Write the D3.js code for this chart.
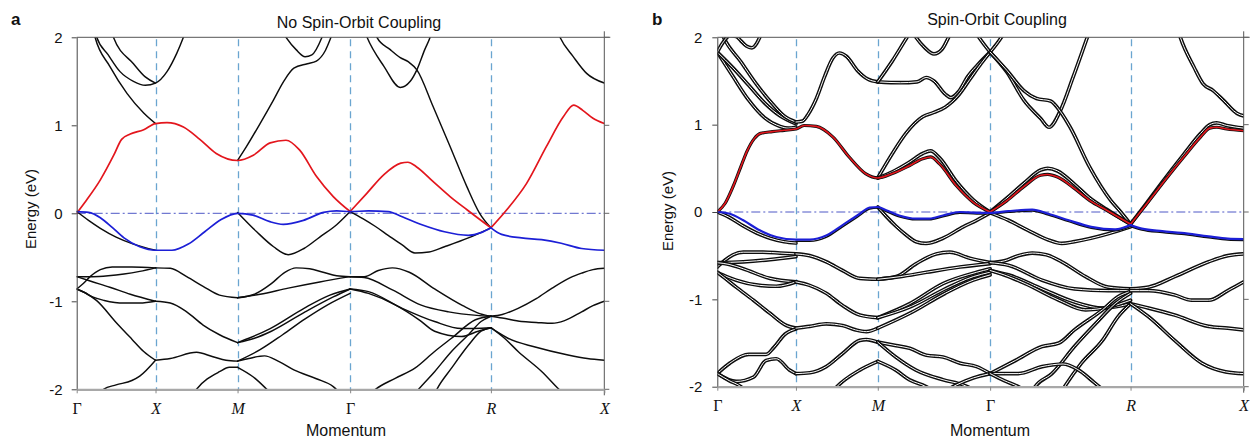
<!DOCTYPE html>
<html><head><meta charset="utf-8">
<script src="https://cdn.jsdelivr.net/npm/d3@7"></script>
<style>body{margin:0;background:#fff}</style>
</head><body>
<svg id="c" width="1253" height="440"></svg>
<script>
// ---------- shared axis data ----------
const symLabels = ["Γ","X","M","Γ","R","X"];
const kPath = [0, 0.49, 1.0, 1.70, 2.575, 3.28];   // path length of high-symmetry points
const yTicks = [-2, -1, 0, 1, 2];
// band points: [u, E] with u = segment coordinate (0=Γ,1=X,2=M,3=Γ,4=R,5=X); third value 1 = cusp

// ---------- panel a (no SOC) ----------
const aRed = [[0,0],[0.1,0.12],[0.3,0.38],[0.47,0.66],[0.57,0.84],[0.68,0.9],[0.85,0.95],[1,1.02],[1.14,1.03],[1.34,0.98],[1.54,0.84],[1.74,0.68],[2,0.6],[2.14,0.66],[2.29,0.8],[2.43,0.83],[2.55,0.72],[2.7,0.42],[2.85,0.19],[3,0.02,1],[3.12,0.23],[3.24,0.44],[3.36,0.57],[3.41,0.58],[3.47,0.53],[3.59,0.36],[3.71,0.19],[3.83,0.04],[4,-0.165,1],[4.14,0.04],[4.315,0.34],[4.49,0.76],[4.64,1.1],[4.73,1.23],[4.81,1.17],[4.9,1.08],[5,1.02]];
const aBlue = [[0,0.02],[0.15,0.01],[0.3,-0.05],[0.45,-0.16],[0.6,-0.28],[0.8,-0.38],[1,-0.42],[1.2,-0.42],[1.4,-0.35],[1.6,-0.21],[1.8,-0.07],[2,0.0],[2.137,-0.02],[2.287,-0.095],[2.406,-0.125],[2.585,-0.08],[2.764,0.01],[2.88,0.027],[3,0.02],[3.13,0.027],[3.27,0.02],[3.37,-0.04],[3.51,-0.13],[3.67,-0.21],[3.84,-0.25],[3.93,-0.22],[4,-0.165,1],[4.094,-0.24],[4.27,-0.28],[4.447,-0.3],[4.62,-0.34],[4.8,-0.4],[5,-0.42]];
const aConduction = [
  [[0.2,2.12],[0.233,2.0],[0.42,1.67],[0.64,1.36],[0.85,1.14],[1,1.02]],
  [[0.22,2.1],[0.254,2.0],[0.4,1.8],[0.55,1.61],[0.72,1.5],[0.87,1.455],[1,1.48],[1.14,1.61],[1.26,1.82],[1.34,2.0],[1.38,2.1]],
  [[0.43,2.1],[0.466,2.0],[0.72,1.7],[0.87,1.55],[1,1.48]],
  [[2,0.6],[2.08,0.76],[2.2,1.02],[2.32,1.29],[2.41,1.5],[2.5,1.65],[2.62,1.7],[2.7,1.73],[2.78,1.85],[2.83,2.0],[2.86,2.1]],
  [[2.38,2.1],[2.43,2.0],[2.52,1.86],[2.6,1.78],[2.66,1.8],[2.75,2.0],[2.78,2.1]],
  [[3.1,2.08],[3.12,2.0],[3.24,1.67],[3.356,1.43],[3.427,1.5],[3.474,1.63],[3.53,1.86],[3.568,2.0],[3.58,2.06]],
  [[3.17,2.08],[3.19,2.0],[3.285,1.86],[3.356,1.77],[3.415,1.72],[3.474,1.63],[3.59,1.21],[3.71,0.76],[3.83,0.3],[3.92,0.0],[4,-0.165]],
  [[4.57,2.12],[4.609,2.0],[4.726,1.78],[4.844,1.59],[5,1.48]]
];
const aValence = [
  [[0,0.02],[0.15,-0.08],[0.3,-0.17],[0.5,-0.27],[0.72,-0.35],[1,-0.42]],
  [[2,0.01],[2.17,-0.21],[2.32,-0.38],[2.45,-0.47],[2.59,-0.4],[2.73,-0.27],[2.88,-0.13],[3,0.02,1],[3.09,-0.06],[3.18,-0.15],[3.27,-0.25],[3.37,-0.36],[3.46,-0.45],[3.56,-0.44],[3.67,-0.38],[3.84,-0.28],[4,-0.165]],
  [[0,-0.86],[0.08,-0.8],[0.17,-0.72],[0.3,-0.64],[0.45,-0.61],[0.7,-0.61],[1,-0.62]],
  [[0,-0.72],[0.2,-0.72],[0.4,-0.71],[0.6,-0.69],[0.8,-0.66],[1,-0.62]],
  [[0,-0.72],[0.17,-0.77],[0.42,-0.84],[0.68,-0.92],[1,-1.0]],
  [[0,-0.86],[0.1,-0.9],[0.2,-0.95],[0.35,-0.99],[0.6,-1.02],[0.8,-1.02],[1,-1.0]],
  [[0,-0.86],[0.1,-0.9],[0.25,-0.99],[0.5,-1.24],[0.7,-1.43],[0.85,-1.57],[1,-1.67]],
  [[0.3,-2.03],[0.34,-2.0],[0.5,-1.95],[0.7,-1.9],[0.8,-1.85],[1,-1.67]],
  [[1,-0.62],[1.18,-0.625],[1.38,-0.72],[1.58,-0.83],[1.78,-0.93],[2,-0.96]],
  [[1,-1.0],[1.18,-1.02],[1.38,-1.12],[1.58,-1.27],[1.78,-1.38],[2,-1.47]],
  [[1,-1.67],[1.18,-1.65],[1.5,-1.58],[1.7,-1.63],[1.86,-1.67],[2,-1.68]],
  [[1.46,-2.05],[1.5,-2.0],[1.78,-1.8],[1.9,-1.75],[2,-1.75]],
  [[2,-0.96],[2.15,-0.92],[2.3,-0.8],[2.42,-0.67],[2.52,-0.62],[2.64,-0.63],[2.76,-0.67],[2.88,-0.71],[3,-0.72]],
  [[2,-0.96],[2.2,-0.92],[2.45,-0.85],[2.73,-0.78],[3,-0.72]],
  [[2,-1.47],[2.1,-1.42],[2.29,-1.31],[2.59,-1.08],[2.82,-0.93],[3,-0.86]],
  [[2,-1.47],[2.15,-1.42],[2.3,-1.34],[2.6,-1.12],[2.85,-0.95],[3,-0.86]],
  [[2,-1.68],[2.2,-1.55],[2.4,-1.38],[2.6,-1.2],[2.8,-1.04],[3,-0.91]],
  [[2,-1.68],[2.1,-1.65],[2.24,-1.62],[2.36,-1.68],[2.5,-1.78],[2.7,-1.88],[2.85,-1.97],[2.9,-2.03]],
  [[2,-1.75],[2.14,-1.86],[2.26,-2.0],[2.3,-2.05]],
  [[3,-0.72],[3.1,-0.72],[3.2,-0.65],[3.3,-0.62],[3.42,-0.67],[3.6,-0.86],[3.8,-1.05],[3.92,-1.14],[4,-1.17]],
  [[3,-0.72],[3.1,-0.73],[3.3,-0.87],[3.5,-1.04],[3.7,-1.12],[3.9,-1.16],[4,-1.17]],
  [[3,-0.86],[3.13,-0.91],[3.32,-1.04],[3.49,-1.21],[3.6,-1.34],[3.79,-1.4],[3.91,-1.34],[4,-1.3]],
  [[3,-0.86],[3.13,-0.89],[3.37,-1.08],[3.6,-1.23],[3.79,-1.31],[4,-1.3]],
  [[4,-1.17],[4.1,-1.15],[4.24,-1.08],[4.4,-0.97],[4.54,-0.85],[4.7,-0.73],[4.8,-0.68],[4.9,-0.64],[5,-0.625]],
  [[4,-1.17],[4.1,-1.19],[4.27,-1.23],[4.4,-1.24],[4.54,-1.25],[4.65,-1.22],[4.8,-1.12],[4.9,-1.05],[5,-1.0]],
  [[4,-1.3],[4.07,-1.36],[4.15,-1.42],[4.39,-1.52],[4.68,-1.61],[4.85,-1.65],[5,-1.67]],
  [[4,-1.3],[4.12,-1.42],[4.24,-1.57],[4.45,-1.8],[4.6,-2.0],[4.65,-2.06]],
  [[3.15,-2.04],[3.18,-2.0],[3.32,-1.875],[3.46,-1.76],[3.6,-1.57],[3.72,-1.42],[3.89,-1.21],[4,-1.17]],
  [[3.46,-2.05],[3.486,-2.0],[3.6,-1.8],[3.72,-1.57],[3.84,-1.38],[3.93,-1.23],[4,-1.17]],
  [[3.6,-2.05],[3.616,-2.0],[3.72,-1.76],[3.84,-1.5],[3.93,-1.34],[4,-1.3]]
];

// ---------- panel b (SOC) ----------
const bRed = [[0,0],[0.1,0.1],[0.2,0.29],[0.3,0.52],[0.38,0.7],[0.47,0.84],[0.55,0.9],[0.7,0.92],[0.85,0.935],[1,0.95],[1.1,0.99],[1.25,0.98],[1.45,0.86],[1.65,0.63],[1.85,0.44],[2,0.39],[2.13,0.44],[2.28,0.53],[2.4,0.61],[2.47,0.63],[2.55,0.55],[2.7,0.3],[2.85,0.11],[3,0.0,1],[3.12,0.13],[3.24,0.29],[3.36,0.42],[3.41,0.43],[3.48,0.4],[3.6,0.27],[3.71,0.13],[3.83,0.02],[4,-0.14,1],[4.14,0.09],[4.29,0.34],[4.47,0.63],[4.62,0.86],[4.7,0.96],[4.76,0.97],[4.85,0.95],[5,0.93]];
const bRedPartner = [[2,0.39],[2.13,0.46],[2.28,0.57],[2.4,0.67],[2.47,0.7],[2.55,0.62],[2.7,0.35],[2.85,0.14],[3,0.0,1],[3.12,0.16],[3.24,0.33],[3.36,0.48],[3.41,0.5],[3.48,0.47],[3.6,0.32],[3.71,0.16],[3.83,0.03],[4,-0.14,1],[4.14,0.1],[4.29,0.36],[4.47,0.66],[4.62,0.9],[4.7,1.0],[4.76,1.02],[4.85,0.99],[5,0.96]];
const bBlue = [[0,0],[0.16,-0.02],[0.33,-0.095],[0.54,-0.21],[0.75,-0.286],[1,-0.316],[1.17,-0.316],[1.37,-0.27],[1.57,-0.15],[1.78,-0.02],[1.9,0.05],[2,0.057],[2.075,0.02],[2.19,-0.04],[2.34,-0.076],[2.46,-0.076],[2.58,-0.04],[2.73,0],[2.88,-0.01],[3,-0.01],[3.13,0.01],[3.3,0.027],[3.415,-0.02],[3.56,-0.095],[3.72,-0.17],[3.89,-0.2],[4,-0.15,1],[4.1,-0.19],[4.28,-0.22],[4.45,-0.24],[4.69,-0.28],[4.86,-0.305],[5,-0.31]];
const bBlueShadow = [[1,-0.335],[1.17,-0.335],[1.37,-0.29],[1.57,-0.17],[1.78,-0.04],[1.9,0.035],[2,0.045],[2.075,0.005],[2.19,-0.055],[2.34,-0.09],[2.46,-0.09],[2.58,-0.055],[2.73,-0.015],[2.88,-0.022],[3,-0.02],[3.13,-0.003],[3.3,0.012],[3.415,-0.035],[3.56,-0.11],[3.72,-0.185],[3.89,-0.215],[4,-0.165,1],[4.1,-0.205],[4.28,-0.235],[4.45,-0.255],[4.69,-0.295],[4.86,-0.32],[5,-0.325]];
const bConduction = [
  [[0,1.83],[0.2,1.55],[0.4,1.28],[0.6,1.08],[0.8,0.98],[0.9,0.96],[1,0.97]],
  [[0,1.83],[0.2,1.65],[0.4,1.45],[0.6,1.25],[0.8,1.1],[1,1.01]],
  [[0.05,2.06],[0.08,2.0],[0.3,1.72],[0.5,1.46],[0.7,1.24],[0.85,1.1],[1,1.03]],
  [[0,1.83],[0.08,1.95],[0.16,2.02],[0.24,2.01],[0.3,1.96],[0.37,1.9],[0.44,1.88],[0.5,1.93],[0.55,2.02],[0.58,2.08]],
  [[1,1.03],[1.08,1.04],[1.15,1.12],[1.25,1.3],[1.35,1.55],[1.45,1.76],[1.53,1.82],[1.62,1.78],[1.75,1.62],[1.88,1.52],[2,1.49]],
  [[2,1.49],[2.2,1.48],[2.35,1.49],[2.43,1.54],[2.5,1.5],[2.6,1.35],[2.65,1.31],[2.72,1.38],[2.8,1.55],[2.9,1.7],[3,1.83]],
  [[2,1.49],[2.13,1.73],[2.26,2.0],[2.3,2.08]],
  [[2,0.39],[2.13,0.67],[2.25,0.9],[2.4,1.09],[2.5,1.14],[2.6,1.2],[2.66,1.26],[2.72,1.34],[2.82,1.52],[2.92,1.7],[3,1.83]],
  [[2.3,2.08],[2.34,2.0],[2.42,1.88],[2.5,1.81],[2.57,1.86],[2.63,2.0],[2.66,2.08]],
  [[2.86,2.08],[2.9,2.0],[3,1.83,1],[3.08,2.0],[3.11,2.08]],
  [[3,1.83],[3.12,1.6],[3.24,1.28],[3.36,1.07],[3.42,0.97],[3.5,1.16],[3.59,1.54],[3.69,1.99],[3.71,2.08]],
  [[3,1.83],[3.12,1.62],[3.24,1.39],[3.33,1.3],[3.43,1.27],[3.5,1.15],[3.57,0.97],[3.71,0.51],[3.86,0.13],[3.93,0.0],[4,-0.14]],
  [[4.42,2.08],[4.44,2.0],[4.56,1.66],[4.64,1.47],[4.73,1.39],[4.82,1.28],[4.94,1.13],[5,1.1]]
];
const bValence = [
  [[0,0],[0.15,-0.06],[0.33,-0.16],[0.5,-0.24],[0.67,-0.3],[0.85,-0.34],[1,-0.355]],
  [[2,0.057],[2.075,-0.05],[2.16,-0.16],[2.25,-0.26],[2.34,-0.34],[2.43,-0.36],[2.58,-0.3],[2.76,-0.17],[2.88,-0.095],[3,-0.01,1],[3.13,-0.095],[3.27,-0.21],[3.415,-0.32],[3.51,-0.36],[3.6,-0.34],[3.84,-0.25],[4,-0.17]],
  [[0,-0.63],[0.1,-0.55],[0.2,-0.49],[0.33,-0.46],[0.58,-0.46],[0.8,-0.47],[1,-0.48]],
  [[0,-0.58],[0.33,-0.57],[0.67,-0.545],[1,-0.51]],
  [[0,-0.58],[0.15,-0.6],[0.33,-0.65],[0.67,-0.76],[1,-0.8]],
  [[0,-0.69],[0.12,-0.74],[0.24,-0.78],[0.54,-0.84],[0.75,-0.85],[1,-0.8]],
  [[0,-0.69],[0.1,-0.76],[0.24,-0.86],[0.46,-1.01],[0.67,-1.16],[0.88,-1.3],[1,-1.33]],
  [[0,-1.85],[0.16,-1.73],[0.4,-1.63],[0.62,-1.63],[0.72,-1.55],[0.86,-1.4],[1,-1.34]],
  [[0,-1.85],[0.24,-1.94],[0.46,-1.89],[0.62,-1.7],[0.75,-1.68],[0.92,-1.81],[1,-1.85]],
  [[0,-1.85],[0.15,-1.93],[0.3,-2.0],[0.35,-2.04]],
  [[1,-0.48],[1.167,-0.5],[1.37,-0.57],[1.57,-0.67],[1.78,-0.76],[2,-0.77]],
  [[1,-0.8],[1.167,-0.84],[1.37,-0.93],[1.57,-1.07],[1.78,-1.18],[2,-1.21]],
  [[1,-1.33],[1.167,-1.31],[1.37,-1.28],[1.57,-1.3],[1.73,-1.35],[1.86,-1.37],[2,-1.33]],
  [[1,-1.85],[1.17,-1.84],[1.37,-1.77],[1.57,-1.62],[1.78,-1.47],[1.86,-1.46],[2,-1.49]],
  [[1.45,-2.05],[1.5,-2.0],[1.78,-1.81],[2,-1.71]],
  [[2,-0.77],[2.164,-0.74],[2.343,-0.59],[2.52,-0.48],[2.64,-0.46],[2.82,-0.53],[3,-0.58]],
  [[2,-0.77],[2.2,-0.74],[2.433,-0.69],[2.73,-0.63],[3,-0.59]],
  [[2,-1.21],[2.284,-1.05],[2.58,-0.82],[2.88,-0.69],[3,-0.65]],
  [[2,-1.21],[2.3,-1.08],[2.6,-0.88],[2.85,-0.74],[3,-0.69]],
  [[2,-1.33],[2.3,-1.15],[2.6,-0.93],[2.85,-0.78],[3,-0.72]],
  [[2,-1.49],[2.164,-1.53],[2.284,-1.56],[2.433,-1.64],[2.58,-1.66],[2.73,-1.73],[2.88,-1.77],[3,-1.85]],
  [[2,-1.49],[2.16,-1.66],[2.34,-1.81],[2.58,-1.92],[2.76,-1.98],[2.85,-2.03]],
  [[2,-1.71],[2.16,-1.81],[2.28,-1.92],[2.43,-2.0],[2.48,-2.04]],
  [[2.6,-2.05],[2.7,-1.98],[2.85,-1.9],[3,-1.85]],
  [[3,-0.58],[3.1,-0.56],[3.2,-0.5],[3.3,-0.47],[3.4,-0.49],[3.51,-0.57],[3.68,-0.74],[3.84,-0.86],[4,-0.88]],
  [[3,-0.58],[3.13,-0.61],[3.37,-0.78],[3.6,-0.88],[3.84,-0.9],[4,-0.9]],
  [[3,-0.67],[3.13,-0.72],[3.37,-0.88],[3.6,-1.03],[3.8,-1.1],[4,-1.05]],
  [[3,-0.67],[3.1,-0.72],[3.25,-0.82],[3.49,-1.01],[3.68,-1.12],[3.84,-1.09],[4,-1.01]],
  [[3,-1.85],[3.18,-1.7],[3.37,-1.54],[3.49,-1.5],[3.6,-1.35],[3.8,-1.12],[3.91,-0.97],[4,-0.91]],
  [[3.3,-2.05],[3.32,-2.0],[3.44,-1.85],[3.6,-1.54],[3.75,-1.28],[3.89,-1.05],[4,-0.93]],
  [[3.51,-2.05],[3.53,-2.0],[3.65,-1.73],[3.8,-1.47],[3.91,-1.2],[4,-1.05]],
  [[3,-1.85],[3.2,-1.85],[3.37,-1.77],[3.52,-1.74],[3.62,-1.8],[3.74,-1.95],[3.8,-2.03]],
  [[3,-1.85],[3.1,-1.93],[3.2,-2.0],[3.25,-2.05]],
  [[4,-0.88],[4.16,-0.86],[4.39,-0.74],[4.69,-0.57],[4.86,-0.5],[5,-0.48]],
  [[4,-0.9],[4.16,-0.9],[4.39,-0.95],[4.54,-1.01],[4.69,-1.01],[4.86,-0.9],[5,-0.8]],
  [[4,-1.05],[4.16,-1.1],[4.39,-1.18],[4.69,-1.31],[4.86,-1.33],[5,-1.35]],
  [[4,-1.05],[4.16,-1.2],[4.39,-1.47],[4.63,-1.73],[4.84,-1.83],[5,-1.85]]
];

// ---------- drawing ----------
const svg = d3.select("#c");
const defs = svg.append("defs");
const RED = "#e3161d", BLUE = "#1c1fd6", DARK = "#0d0d0d";

function pieces(band) {
  const out = []; let cur = [];
  band.forEach(p => { cur.push(p); if (p[2] === 1) { out.push(cur); cur = [p]; } });
  if (cur.length > 1) out.push(cur);
  return out;
}

function drawPanel(o) {
  const kx = d3.scaleLinear().domain([kPath[0], kPath[kPath.length - 1]]).range([o.x0, o.x1]);
  const x = d3.scaleLinear().domain(d3.range(kPath.length)).range(kPath.map(kx));
  const y = d3.scaleLinear().domain([-2, 2]).range([o.yb, o.yt]);
  const line = d3.line().x(d => x(d[0])).y(d => y(d[1])).curve(d3.curveMonotoneX);
  const g = svg.append("g").attr("font-family", "'Liberation Sans', Arial, Helvetica, sans-serif");

  defs.append("clipPath").attr("id", "clip" + o.id).append("rect")
    .attr("x", o.x0).attr("y", o.yt).attr("width", o.x1 - o.x0).attr("height", o.yb - o.yt);

  // guide lines
  g.selectAll("line.sym").data([1, 2, 3, 4]).join("line").attr("class", "sym")
    .attr("x1", d => Math.round(x(d)) + 0.5).attr("x2", d => Math.round(x(d)) + 0.5)
    .attr("y1", o.yt + 2).attr("y2", o.yb)
    .attr("stroke", "#6aa5d0").attr("stroke-width", 1.3).attr("stroke-dasharray", "7,5");
  g.append("line").attr("x1", o.x0).attr("x2", o.x1).attr("y1", y(0)).attr("y2", y(0))
    .attr("stroke", "#4e58c6").attr("stroke-width", 1).attr("stroke-dasharray", "9,3,2,3");

  const bands = g.append("g").attr("clip-path", `url(#clip${o.id})`)
    .attr("fill", "none").attr("stroke-linejoin", "round").attr("stroke-linecap", "round");

  const flat = arr => arr.flatMap(pieces);
  if (!o.double) {
    bands.selectAll("path.blk").data(flat(o.black)).join("path").attr("class", "blk")
      .attr("d", line).attr("stroke", DARK).attr("stroke-width", 1.45);
    bands.selectAll("path.red").data(pieces(o.red)).join("path").attr("class", "red")
      .attr("d", line).attr("stroke", RED).attr("stroke-width", 1.7);
    bands.selectAll("path.blue").data(pieces(o.blue)).join("path").attr("class", "blue")
      .attr("d", line).attr("stroke", BLUE).attr("stroke-width", 1.7);
  } else {
    const pairs = flat(o.black).concat(pieces(o.redPartner));
    const pg = bands.selectAll("g.pair").data(pairs).join("g").attr("class", "pair");
    pg.append("path").attr("d", line).attr("stroke", DARK).attr("stroke-width", 3.7);
    pg.append("path").attr("d", line).attr("stroke", "#fff").attr("stroke-width", 1.0);
    bands.selectAll("path.redo").data(pieces(o.red)).join("path").attr("class", "redo")
      .attr("d", line).attr("stroke", DARK).attr("stroke-width", 3.2);
    bands.selectAll("path.red").data(pieces(o.red)).join("path").attr("class", "red")
      .attr("d", line).attr("stroke", RED).attr("stroke-width", 1.6);
    bands.selectAll("path.bsh").data(pieces(o.blueShadow)).join("path").attr("class", "bsh")
      .attr("d", line).attr("stroke", DARK).attr("stroke-width", 1.5);
    bands.selectAll("path.blue").data(pieces(o.blue)).join("path").attr("class", "blue")
      .attr("d", line).attr("stroke", BLUE).attr("stroke-width", 2.2);
  }

  // frame
  g.append("line").attr("x1", o.x0).attr("x2", o.x1 + 6).attr("y1", o.yt).attr("y2", o.yt).attr("stroke", "#555");
  g.append("line").attr("x1", o.x1).attr("x2", o.x1).attr("y1", o.yt - 6).attr("y2", o.yb + 6).attr("stroke", "#555");
  g.selectAll("line.rt").data(yTicks).join("line").attr("class", "rt")
    .attr("x1", o.x1).attr("x2", o.x1 + 5).attr("y1", d => y(d)).attr("y2", d => y(d)).attr("stroke", "#666");

  const ya = g.append("g").attr("transform", `translate(${o.x0},0)`)
    .call(d3.axisLeft(y).tickValues(yTicks).tickFormat(d => String(d)).tickSize(5).tickSizeOuter(0).tickPadding(o.pad));
  ya.select(".domain").attr("stroke", "#444");
  ya.selectAll(".tick line").attr("stroke", "#444");
  ya.selectAll("text").attr("font-size", 15).attr("fill", "#111").attr("font-family", "'Liberation Sans', Arial, sans-serif");

  const xa = g.append("g").attr("transform", `translate(0,${o.yb})`)
    .call(d3.axisBottom(x).tickValues(d3.range(symLabels.length)).tickFormat(i => symLabels[i]).tickSize(4).tickSizeOuter(0).tickPadding(9));
  xa.select(".domain").attr("stroke", "#a8a8a8").attr("stroke-width", 2.2);
  xa.selectAll(".tick line").attr("stroke", "#888");
  xa.selectAll("text").attr("font-size", 16).attr("fill", "#111")
    .attr("font-family", "'Liberation Serif', 'Times New Roman', serif")
    .attr("font-style", (d, i) => symLabels[i] === "Γ" ? "normal" : "italic");

  g.append("text").attr("x", o.titleX).attr("y", o.titleY).attr("text-anchor", "middle")
    .attr("font-size", 16).attr("fill", "#111").text(o.title);
  g.append("text").attr("x", o.letterX).attr("y", 25).attr("font-size", 17).attr("font-weight", "bold")
    .attr("fill", "#111").text(o.letter);
  g.append("text").attr("x", o.momX).attr("y", 436).attr("text-anchor", "middle")
    .attr("font-size", 16).attr("fill", "#111").text("Momentum");
  g.append("text").attr("transform", `translate(${o.enX},${o.enY}) rotate(-90)`).attr("text-anchor", "middle")
    .attr("font-size", 15).attr("fill", "#111").text("Energy (eV)");
}

drawPanel({id: "a", x0: 76.7, x1: 604.3, yt: 37.3, yb: 389.3, double: false, pad: 9,
  black: aConduction.concat(aValence), red: aRed, blue: aBlue,
  title: "No Spin-Orbit Coupling", titleX: 359, titleY: 28, letter: "a", letterX: 11,
  momX: 346, enX: 36, enY: 209});
drawPanel({id: "b", x0: 717.3, x1: 1243.7, yt: 37.3, yb: 386.7, double: true, pad: 10,
  black: bConduction.concat(bValence), redPartner: bRedPartner, red: bRed, blue: bBlue, blueShadow: bBlueShadow,
  title: "Spin-Orbit Coupling", titleX: 997, titleY: 25, letter: "b", letterX: 652,
  momX: 990, enX: 673, enY: 211});
</script>
</body></html>
